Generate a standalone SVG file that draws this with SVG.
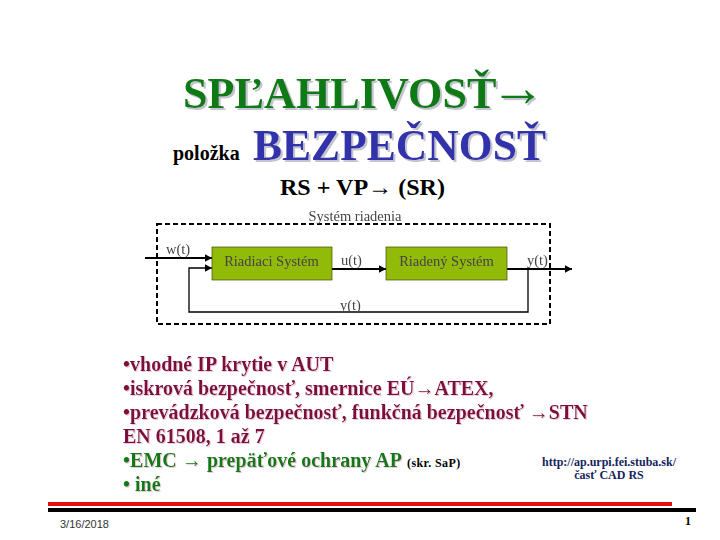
<svg xmlns="http://www.w3.org/2000/svg" width="720" height="540" viewBox="0 0 720 540">
<defs>
<marker id="ah" markerUnits="userSpaceOnUse" markerWidth="8" markerHeight="9" refX="7.500" refY="4.5" orient="auto"><path d="M0,0.500 L7.500,4.5 L0,8.500 Z" fill="#000"/></marker>
<filter id="shBig" x="-5%" y="-20%" width="110%" height="140%"><feDropShadow dx="2" dy="2" stdDeviation="0.4" flood-color="#c4c4d0"/></filter>
<filter id="shMid" x="-5%" y="-20%" width="110%" height="140%"><feDropShadow dx="1" dy="1" stdDeviation="0.4" flood-color="#eec8d8"/></filter>
<filter id="soft" x="-5%" y="-20%" width="110%" height="140%"><feGaussianBlur stdDeviation="0.35"/></filter>
</defs>
<style>
text{font-family:"Liberation Serif","Times New Roman",serif}
.b{font-weight:bold}
.t{font-weight:bold;filter:url(#shBig)}
.s{font-size:14.5px;fill:#444;filter:url(#soft)}
.m{font-size:20px;font-weight:bold;fill:#7d0d3c;filter:url(#shMid)}
.g{font-size:20px;font-weight:bold;fill:#0a7a12;filter:url(#shMid)}
.box{fill:#92ba08;stroke:#3c4a10;stroke-width:0.7}
.l{fill:none;stroke:#000;stroke-width:1.3}
.h{fill:none;stroke:#000;stroke-width:2}
.d{fill:#16235f;font-size:12px;font-weight:bold}
</style>
<rect width="720" height="540" fill="#fff"/>
<g id="title">
<text class="t" x="183" y="108" font-size="44.200" fill="#0a7a12">SPĽAHLIVOSŤ<tspan font-size="55" font-weight="normal" dx="-6" dy="-2">→</tspan></text>
<text class="b" x="173" y="160" font-size="20">položka</text>
<text class="t" x="253" y="160" font-size="44" fill="#3333aa" textLength="293" lengthAdjust="spacingAndGlyphs">BEZPEČNOSŤ</text>
<text class="b" x="280" y="195" font-size="24" textLength="165" lengthAdjust="spacingAndGlyphs">RS + VP<tspan font-weight="normal">→</tspan> (SR)</text>
</g>
<g id="system-boundary">
<rect x="157" y="224" width="393" height="100" fill="none" stroke="#000" stroke-width="2" stroke-dasharray="5 3"/>
<text class="s" x="355" y="221" text-anchor="middle">Systém riadenia</text>
</g>
<g id="connectors">
<path class="h" d="M145,258 H212" marker-end="url(#ah)"/>
<path class="l" d="M528,269 V312 H189 V268 H212" marker-end="url(#ah)"/>
<path class="h" d="M332,269 H386" marker-end="url(#ah)"/>
<path class="h" d="M507,269 H572" marker-end="url(#ah)"/>
</g>
<g id="riadiaci">
<rect class="box" x="212" y="247" width="120" height="33"/>
<text class="s" x="271.500" y="266" text-anchor="middle">Riadiaci Systém</text>
</g>
<g id="riadeny">
<rect class="box" x="386" y="247" width="121" height="33"/>
<text class="s" x="446.500" y="266" text-anchor="middle">Riadený Systém</text>
</g>
<g id="signals">
<text class="s" x="166" y="254">w(t)</text>
<text class="s" x="341" y="265">u(t)</text>
<text class="s" x="527" y="265">y(t)</text>
<text class="s" x="340" y="310">y(t)</text>
</g>
<g id="body">
<text class="m" x="123" y="371">•vhodné IP krytie v AUT</text>
<text class="m" x="123" y="395">•iskrová bezpečnosť, smernice EÚ→ATEX,</text>
<text class="m" x="123" y="419">•prevádzková bezpečnosť, funkčná bezpečnosť →STN</text>
<text class="m" x="123" y="443">EN 61508, 1 až 7</text>
<text class="g" x="123" y="467" textLength="279">•EMC → prepäťové ochrany AP</text>
<text class="b" x="407" y="467" font-size="12" letter-spacing="0.4">(skr. SaP)</text>
<text class="g" x="123" y="491">• iné</text>
</g>
<g id="link">
<text class="d" x="609" y="466" text-anchor="middle">http://ap.urpi.fei.stuba.sk/</text>
<text class="d" x="609" y="479" text-anchor="middle">časť CAD RS</text>
</g>
<g id="footer">
<rect x="48" y="502" width="624" height="4" fill="#e01010"/>
<rect x="48" y="508" width="648" height="4" fill="#000"/>
<text x="60" y="528" style="font-family:'Liberation Sans',sans-serif" font-size="11" fill="#333">3/16/2018</text>
<text class="b" x="685" y="525" font-size="12">1</text>
</g>
</svg>
